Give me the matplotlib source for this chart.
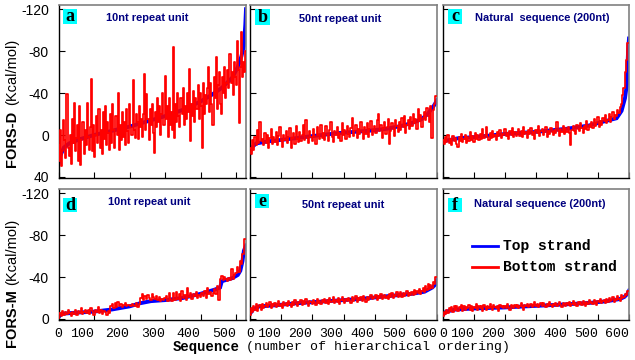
import numpy as np
import matplotlib
matplotlib.use("Agg")
import matplotlib.pyplot as plt
from matplotlib.patches import Rectangle

# ---------------- data ----------------
# Panel a: FORS-D, 10nt repeat unit
a_blue_x = [0, 5, 15, 30, 60, 100, 150, 200, 250, 300, 350, 400, 430, 460, 490, 505, 515, 522, 526, 528]
a_blue_y = [28, 20, 12, 8, 4, 0, -4, -8, -13, -18, -24, -32, -38, -45, -55, -65, -75, -85, -105, -120]
a_red_step = 3
a_red = [10, 25, -5, 30, 15, -14, 5, 22, -39, 12,
         20, 0, 28, -15, 8, -31, 15, 3, -10, 25,
         -28, 29, 5, -12, 18, -5, 10, -31, 2, 14,
         -8, -53, 15, -10, 21, 0, -18, 8, -25, 12,
         -5, 18, -22, 4, -28, 10, -12, -2, 14, -20,
         8, -30, -5, 12, -18, 0, -40, 14, -10, 5,
         -22, 2, -12, 10, -25, -4, 8, -30, -8, 0,
         -52, -5, 3, -20, -12, 4, -28, -8, -15, 2,
         -20, -58, -5, -39, -15, 5, -25, -10, -30, -2,
         17, -22, -8, -35, -12, -28, 0, -20, -40, -10,
         -56, -15, -28, 2, -35, -10, -22, -5, -84, 3,
         -30, -12, -40, -18, -8, -35, -20, -45, -10, -28,
         -15, -40, -22, -63, 6, -30, -18, -42, -12, -35,
         -25, -48, -15, -40, -28, 12, -50, -20, -38, -30,
         -45, -65, -22, -50, -30, -10, -55, -35, -74, -25,
         -48, -60, -30, -20, -55, -40, -65, -35, -50, -62,
         -45, -77, -50, -60, -38, -70, -55, -48, -90, -62,
         -11, -65, -98, -55, -70, -60, -80, -95, -110, -120]

# Panel b: FORS-D, 50nt repeat unit
b_blue_x = [0, 5, 20, 60, 120, 200, 290, 380, 440, 490, 525, 550, 570, 590, 600]
b_blue_y = [17, 12, 8, 6, 4, 1, -2, -4, -6, -9, -12, -15, -20, -28, -33]
b_red_step = 4
b_red = [12, 18, 5, 14, 2, 10, -5, 8, -12, 6,
         4, 10, -2, 8, 0, 12, 3, -6, 9, 2,
         7, -3, 10, 1, -8, 6, 11, 0, 5, -4,
         8, 2, -7, 12, 3, -2, 9, -9, 4, 7,
         -3, 6, 0, -10, 5, -14, 3, 8, -4, 2,
         6, -6, 1, 9, -8, 0, 4, -10, 3, -2,
         5, -9, 0, 6, -5, -12, 2, 7, -4, 0,
         -8, 3, -2, 6, -11, 0, -5, 4, -9, -1,
         2, -7, -16, 1, -4, -10, 3, -6, -1, -12,
         -3, 4, -8, -1, -11, 2, -6, -13, 0, -5,
         -9, -2, -14, -20, -4, -10, 3, -7, -12, -1,
         -8, -15, 9, -4, -11, -6, 1, -14, -9, -3,
         -12, -5, -16, -8, -18, -2, -10, -14, -6, -17,
         -9, -20, -11, -15, -6, -25, -13, -19, -8, -16,
         -22, -14, -26, -18, -12, -28, 3, -24, -30, -37]

# Panel c: FORS-D, natural sequence
c_blue_x = [0, 50, 100, 200, 300, 400, 470, 520, 560, 576, 587, 593, 597, 600]
c_blue_y = [6, 3, 2, -1, -3, -6, -9, -13, -16, -23, -35, -48, -80, -92]
c_red_step = 4
c_red = [5, 9, 2, 7, 0, 8, 4, 10, 1, 6,
         3, 9, 11, 2, 6, -1, 7, 4, 0, 8,
         2, 6, -3, 5, 1, 7, -2, 4, 0, 5,
         -1, 4, -6, 3, 0, -8, 2, 5, -2, 3,
         -4, 2, 0, 5, -3, 1, -5, 3, -1, 0,
         -6, 1, -2, 4, -4, 0, -7, 2, -3, 1,
         -2, -6, 1, -4, 2, -8, -1, -3, 3, -5,
         -1, -7, 0, -3, 4, -5, -2, -9, 1, -4,
         -6, 0, -3, -8, 2, -4, -1, -7, -3, 0,
         -5, -2, -12, -4, 1, -6, -3, -9, -1, -7,
         -3, -8, -2, 10, -5, -9, -4, -1, -10, -6,
         -4, -11, -7, -2, -9, -6, -13, -5, -10, -8,
         -12, -7, -15, -9, -11, -17, -8, -13, -10, -16,
         -13, -19, -11, -14, -20, -12, -17, -22, -15, -19,
         -18, -24, -21, -27, -30, -38, -45, -60, -72, -88]

# Panel d: FORS-M, 10nt repeat unit
d_blue_x = [0, 10, 50, 100, 150, 200, 230, 260, 300, 350, 400, 440, 455, 460, 490, 505, 512, 518, 522, 528]
d_blue_y = [-2, -5, -6, -7, -9, -12, -15, -17, -18, -20, -24, -28, -30, -36, -39, -42, -46, -55, -65, -70]
d_red_step = 4
d_red = [-1, -6, -3, -8, -4, -7, -5, -9, -6, -3,
         -7, -5, -9, -4, -8, -6, -10, -5, -7, -9,
         -6, -9, -5, -10, -8, -4, -9, -7, -11, -6,
         -9, -5, -8, -7, -4, -8, -6, -12, -14, -10,
         -15, -11, -16, -12, -14, -11, -13, -15, -12, -13,
         -13, -12, -14, -13, -12, -15, -11, -14, -20, -24,
         -18, -22, -19, -23, -20, -18, -24, -21, -19, -22,
         -18, -21, -17, -19, -18, -20, -22, -17, -25, -19,
         -17, -25, -18, -26, -19, -24, -17, -27, -20, -23,
         -18, -30, -21, -25, -19, -24, -22, -26, -20, -23,
         -21, -25, -22, -27, -20, -30, -24, -26, -22, -25,
         -29, -24, -31, -18, -38, -41, -37, -40, -38, -36,
         -39, -37, -48, -38, -42, -44, -50, -45, -55, -52,
         -62, -76]

# Panel e: FORS-M, 50nt repeat unit
e_blue_x = [0, 10, 30, 80, 150, 250, 350, 450, 520, 560, 585, 595, 600]
e_blue_y = [-5, -9, -12, -13, -15, -17, -19, -22, -24, -26, -30, -33, -37]
e_red_step = 4
e_red = [-4, -10, -7, -12, -9, -14, -8, -11, -13, -9,
         -14, -10, -12, -15, -11, -13, -16, -10, -14, -12,
         -15, -11, -13, -17, -12, -14, -10, -16, -13, -15,
         -12, -17, -14, -11, -16, -13, -18, -14, -12, -16,
         -15, -18, -13, -17, -14, -19, -15, -12, -17, -16,
         -14, -18, -16, -13, -19, -15, -17, -14, -18, -16,
         -19, -15, -18, -14, -20, -16, -17, -21, -15, -18,
         -16, -20, -14, -18, -21, -17, -15, -19, -17, -20,
         -18, -15, -21, -17, -19, -22, -16, -20, -18, -21,
         -17, -22, -19, -16, -21, -18, -20, -23, -19, -21,
         -20, -23, -18, -22, -20, -24, -19, -21, -23, -20,
         -22, -19, -24, -21, -25, -20, -23, -22, -26, -21,
         -23, -26, -21, -25, -22, -24, -27, -22, -25, -23,
         -26, -23, -28, -24, -27, -25, -29, -24, -27, -30,
         -26, -31, -28, -33, -29, -32, -30, -35, -33, -40]

# Panel f: FORS-M, natural sequence
f_blue_x = [0, 10, 40, 100, 200, 300, 400, 480, 530, 570, 585, 595, 600]
f_blue_y = [-4, -7, -9, -10, -11, -12.5, -14, -15.5, -17, -19, -21, -24, -27]
f_red_step = 4
f_red = [-3, -7, -5, -9, -6, -10, -8, -11, -7, -12,
         -9, -12, -8, -11, -10, -13, -8, -12, -9, -11,
         -10, -13, -9, -12, -8, -11, -10, -14, -9, -12,
         -10, -12, -8, -13, -11, -9, -12, -10, -14, -11,
         -9, -13, -11, -10, -12, -8, -13, -11, -12, -10,
         -12, -10, -14, -11, -9, -13, -12, -10, -13, -11,
         -13, -10, -12, -15, -11, -9, -13, -12, -14, -11,
         -12, -14, -11, -13, -16, -12, -14, -11, -13, -15,
         -12, -15, -13, -11, -14, -12, -16, -13, -11, -14,
         -13, -15, -12, -14, -16, -13, -11, -15, -14, -12,
         -15, -13, -16, -12, -14, -17, -13, -15, -12, -16,
         -14, -16, -13, -17, -15, -12, -16, -14, -18, -15,
         -16, -14, -18, -15, -13, -17, -16, -19, -15, -17,
         -18, -15, -19, -16, -20, -17, -18, -21, -16, -19,
         -18, -22, -19, -17, -23, -20, -21, -24, -23, -27]

panel_letters = ["a", "b", "c", "d", "e", "f"]
panel_titles = ["10nt repeat unit", "50nt repeat unit", "Natural  sequence (200nt)",
                "10nt repeat unit", "50nt repeat unit", "Natural sequence (200nt)"]
top_yticks = [-120, -80, -40, 0, 40]
bot_yticks = [-120, -80, -40, 0]
xticks_10nt = [0, 100, 200, 300, 400, 500]
xticks_other = [0, 100, 200, 300, 400, 500, 600]
row_ylabels = [("FORS-D", "(Kcal/mol)"), ("FORS-M", "(Kcal/mol)")]
legend_labels = ["Top strand", "Bottom strand"]

# ---------------- layout ----------------
W, H = 635, 360
fig = plt.figure(figsize=(W / 100, H / 100), dpi=100)
fig.patch.set_facecolor("white")

cols = [(58.5, 246), (250, 437), (443, 629)]
rows = [(5, 178), (189, 320)]
xlims = [528, 600, 600]
ylims = [(41, -124), (1, -124)]

blues = [(a_blue_x, a_blue_y), (b_blue_x, b_blue_y), (c_blue_x, c_blue_y),
         (d_blue_x, d_blue_y), (e_blue_x, e_blue_y), (f_blue_x, f_blue_y)]
reds = [(a_red, a_red_step), (b_red, b_red_step), (c_red, c_red_step),
        (d_red, d_red_step), (e_red, e_red_step), (f_red, f_red_step)]

box_pos = [(63, 9, 14, 15), (255, 9, 15, 16), (448, 9, 14, 15),
           (63, 198, 14, 14), (255, 194, 14, 14), (448, 198, 14, 14)]
title_pos = [(147, 18), (340, 19), (542, 18), (149, 202), (343, 205), (540, 204)]

TICK_FONT = "Liberation Mono"
title_fam = ["Liberation Sans Narrow", "Liberation Sans"]

def fx(px):
    return px / W

def fy(py):
    return 1 - py / H

axes = []
for r in range(2):
    for c in range(3):
        i = r * 3 + c
        l, rr = cols[c]
        t, b = rows[r]
        ax = fig.add_axes([fx(l), fy(b), (rr - l) / W, (b - t) / H])
        axes.append(ax)
        bx, by = blues[i]
        ax.plot(bx, by, color="#0000FF", lw=2.8, solid_joinstyle="miter", zorder=2)
        vals, step = reds[i]
        xs = np.arange(len(vals)) * step
        ax.plot(xs, vals, color="#FF0000", lw=1.25, drawstyle="steps-mid", zorder=3)
        ax.set_xlim(0, xlims[c])
        ax.set_ylim(*ylims[r])
        yt = top_yticks if r == 0 else bot_yticks
        ax.set_yticks(yt)
        xt = xticks_10nt if c == 0 else xticks_other
        ax.set_xticks(xt)
        ax.tick_params(direction="in", length=4, width=0.8, top=False, right=False, colors="black")
        if c == 0:
            ax.set_yticklabels([str(v) for v in yt], fontsize=10, family="Liberation Sans")
            ax.tick_params(axis="y", pad=7)
        else:
            ax.set_yticklabels([])
        if r == 1:
            ax.set_xticklabels([str(v) for v in xt], fontsize=9.5, family=TICK_FONT)
            ax.tick_params(axis="x", pad=6)
            for lbl, v in zip(ax.get_xticklabels(), xt):
                lbl.set_ha("center" if v == 0 else "right")
        else:
            ax.set_xticklabels([])
        for s in ["top", "right"]:
            ax.spines[s].set_color("#808080")
            ax.spines[s].set_linewidth(1.2)
        for s in ["left", "bottom"]:
            ax.spines[s].set_color("black")
            ax.spines[s].set_linewidth(1.0)

        # panel letter box
        x0, y0, w0, h0 = box_pos[i]
        fig.patches.append(Rectangle((fx(x0), fy(y0 + h0)), w0 / W, h0 / H,
                                     transform=fig.transFigure, facecolor="#00FFFF",
                                     edgecolor="none", zorder=5))
        fig.text(fx(x0 + w0 / 2), fy(y0 + h0 / 2), panel_letters[i], ha="center", va="center",
                 fontsize=13, fontweight="bold", family="Liberation Serif", color="black", zorder=6)
        tx, ty = title_pos[i]
        fig.text(fx(tx), fy(ty), panel_titles[i], ha="center", va="center", fontsize=7.9,
                 fontweight="bold", family=title_fam, color="#000080", zorder=6)

# legend in panel f
leg_items = [("#0000FF", 246, legend_labels[0]), ("#FF0000", 267, legend_labels[1])]
for col, ly, lab in leg_items:
    fig.lines.append(plt.Line2D([fx(472), fx(498)], [fy(ly), fy(ly)], transform=fig.transFigure,
                                color=col, lw=2.0))
    fig.text(fx(503), fy(ly), lab, ha="left", va="center", fontsize=10.5, fontweight="bold",
             family=TICK_FONT, color="black")

# y labels
for (bold_part, reg_part), bottom_px in zip(row_ylabels, [167, 347]):
    fig.text(fx(12), fy(bottom_px), bold_part, rotation=90, ha="center", va="bottom",
             fontsize=10.5, fontweight="bold", family="Liberation Sans")
    fig.text(fx(12), fy(bottom_px - 62), reg_part, rotation=90, ha="center", va="bottom",
             fontsize=10.5, family="Liberation Sans")

# x label
fig.text(fx(173), fy(347), "Sequence", ha="left", va="center", fontsize=10,
         fontweight="bold", family=TICK_FONT)
fig.text(fx(246), fy(347), "(number of hierarchical ordering)", ha="left", va="center",
         fontsize=9.5, family=TICK_FONT)

fig.savefig("out.png", dpi=100, facecolor="white")
